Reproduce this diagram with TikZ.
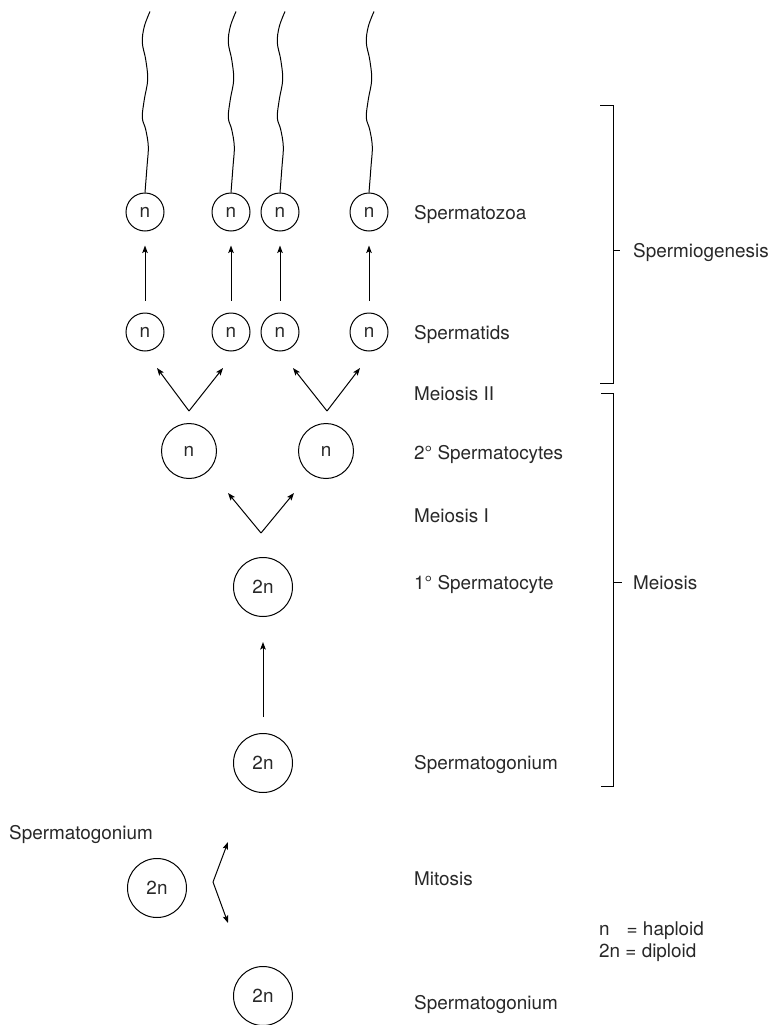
\documentclass[tikz,border=0pt]{standalone}
\usepackage{fontspec}
\setmainfont{TeX Gyre Heros}
\usepackage{tikz}
\usetikzlibrary{arrows.meta,positioning}
\definecolor{InkGray}{RGB}{40,40,40}
\newcommand{\stagefont}{\fontsize{18.9pt}{22pt}\selectfont}
\tikzset{
  cellsmall/.style={draw=black,circle,line width=1pt,minimum size=38pt,
    inner sep=0pt,text=InkGray},
  cellmid/.style={cellsmall,minimum size=55pt},
  cellbig/.style={cellsmall,minimum size=59pt},
  stagelabel/.style={anchor=base west,inner sep=0pt,text=InkGray},
  flowarrow/.style={-{Stealth[length=7.5pt,width=5.5pt,inset=1.5pt]},
    line width=1pt,draw=black},
  tailline/.style={line width=1pt,draw=black},
  bracketline/.style={line width=1pt,draw=black},
}
% wavy tail, drawn up from the top of a spermatozoon
\newcommand{\drawtail}[1]{%
  \draw[tailline,shift={(#1.north)}] plot[smooth,tension=0.6] coordinates
    {(0,0) (2,-26) (3.3,-46) (0.7,-63) (-2.7,-75) (-0.7,-93) (2.7,-113)
     (0.7,-133) (-2.7,-150) (-0.7,-166) (5,-181)};}

\begin{document}
\begin{tikzpicture}[x=1pt,y=-1pt,font=\stagefont]
  \useasboundingbox (0,0) rectangle (771,1025);
  % cells
  \node[cellsmall] (sz1) at (145,212) {n};
  \node[cellsmall] (sz2) at (231,212) {n};
  \node[cellsmall] (sz3) at (280,212) {n};
  \node[cellsmall] (sz4) at (369,212) {n};
  \node[cellsmall] (sd1) at (145,332) {n};
  \node[cellsmall] (sd2) at (231,332) {n};
  \node[cellsmall] (sd3) at (280,332) {n};
  \node[cellsmall] (sd4) at (369,332) {n};
  \node[cellmid] (sc2a) at (189,451) {n};
  \node[cellmid] (sc2b) at (326,451) {n};
  \node[cellbig] (sc1) at (263,587) {2n};
  \node[cellbig] (sg) at (263,763) {2n};
  \node[cellbig] (sgleft) at (157,888) {2n};
  \node[cellbig] (sgbottom) at (263,996) {2n};
  % tails
  \drawtail{sz1}
  \drawtail{sz2}
  \drawtail{sz3}
  \drawtail{sz4}
  % spermiogenesis arrows
  \draw[flowarrow,shorten <=12pt,shorten >=14pt] (sd1) -- (sz1);
  \draw[flowarrow,shorten <=12pt,shorten >=14pt] (sd2) -- (sz2);
  \draw[flowarrow,shorten <=12pt,shorten >=14pt] (sd3) -- (sz3);
  \draw[flowarrow,shorten <=12pt,shorten >=14pt] (sd4) -- (sz4);
  \draw[flowarrow,shorten <=16pt,shorten >=25pt] (sg) -- (sc1);
  % split arrows
  \coordinate (m2a) at (189,411);
  \coordinate (m2aL) at (157,368);
  \coordinate (m2aR) at (223,368);
  \coordinate (m2b) at (327,411);
  \coordinate (m2bL) at (293,368);
  \coordinate (m2bR) at (360,368);
  \coordinate (m1) at (261,533);
  \coordinate (m1L) at (228,493);
  \coordinate (m1R) at (294,493);
  \coordinate (mit) at (213,882);
  \coordinate (mitU) at (228,842);
  \coordinate (mitD) at (228,923);
  \draw[flowarrow] (m2a) -- (m2aL);
  \draw[flowarrow] (m2a) -- (m2aR);
  \draw[flowarrow] (m2b) -- (m2bL);
  \draw[flowarrow] (m2b) -- (m2bR);
  \draw[flowarrow] (m1) -- (m1L);
  \draw[flowarrow] (m1) -- (m1R);
  \draw[flowarrow] (mit) -- (mitU);
  \draw[flowarrow] (mit) -- (mitD);
  % stage labels
  \node[stagelabel] (lsz) at (414,219) {Spermatozoa};
  \node[stagelabel] (lsd) at (414,339) {Spermatids};
  \node[stagelabel] (lm2) at (414,400) {Meiosis II};
  \node[stagelabel] (lsc2) at (414,459) {2° Spermatocytes};
  \node[stagelabel] (lm1) at (414,522) {Meiosis I};
  \node[stagelabel] (lsc1) at (414,589) {1° Spermatocyte};
  \node[stagelabel] (lsg) at (414,769) {Spermatogonium};
  \node[stagelabel] (lmit) at (414,885) {Mitosis};
  \node[stagelabel] (lsgb) at (414,1009) {Spermatogonium};
  \node[stagelabel] (lsgl) at (9,839) {Spermatogonium};
  % legend
  \node[stagelabel] (hap) at (599,935) {n\hspace{17pt}= haploid};
  \node[stagelabel] (dip) at (599,957) {2n = diploid};
  % brackets
  \draw[bracketline] (600,105) -- (613,105) -- (613,383) -- (600,383);
  \draw[bracketline] (613,250) -- (620,250);
  \node[stagelabel] (spermio) at (633,257) {Spermiogenesis};
  \draw[bracketline] (601,393) -- (613,393) -- (613,786) -- (601,786);
  \draw[bracketline] (613,582) -- (622,582);
  \node[stagelabel] (meio) at (633,589) {Meiosis};
\end{tikzpicture}
\end{document}
